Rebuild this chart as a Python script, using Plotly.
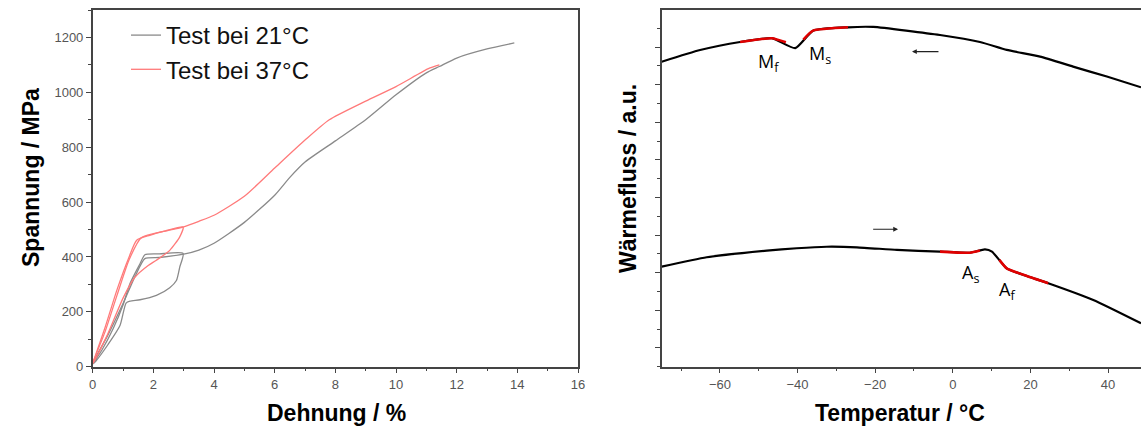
import plotly.graph_objects as go

# ---------------- Left panel: stress-strain ----------------
# Test bei 21°C (grey): cycle to 3 % and final test to fracture
g_cycle_strain = [0.0, 0.3, 0.68, 1.0, 1.23, 1.56, 1.72, 2.2, 2.98, 2.87, 2.76, 2.54, 2.1, 1.56, 1.23, 1.1, 0.9, 0.5, 0.1, 0.0]
g_cycle_stress = [10, 60, 140, 225, 303, 375, 408, 411, 413, 363, 314, 288, 260, 244, 239, 232, 150, 80, 20, 10]
g_final_strain = [0.0, 0.5, 1.0, 1.4, 1.72, 2.2, 3.0, 3.5, 4.0, 5.0, 6.0, 6.5, 7.0, 8.0, 9.0, 10.0, 11.0, 11.43, 12.0, 13.0, 13.9]
g_final_stress = [15, 115, 230, 330, 394, 398, 410, 425, 450, 526, 625, 690, 746, 823, 900, 991, 1071, 1094, 1125, 1158, 1180]

# Test bei 37°C (red)
r_cycle_strain = [0.0, 0.4, 0.8, 1.2, 1.45, 1.88, 2.4, 2.98, 2.87, 2.54, 2.1, 1.83, 1.39, 1.0, 0.5, 0.0]
r_cycle_stress = [10, 140, 280, 400, 461, 479, 495, 509, 473, 424, 388, 369, 326, 250, 120, 10]
r_final_strain = [0.0, 0.4, 0.8, 1.2, 1.6, 2.0, 2.5, 3.0, 3.5, 4.0, 5.0, 6.0, 7.0, 7.8, 9.0, 10.0, 11.1, 11.43]
r_final_stress = [15, 125, 260, 390, 470, 485, 497, 510, 530, 552, 621, 724, 826, 900, 968, 1021, 1088, 1100]

# ---------------- Right panel: DSC ----------------
cool_T = [-75.0, -65.1, -54.8, -46.6, -40.6, -36.0, -27.0, -20.5, -3.3, 7.0, 13.9, 22.5, 31.0, 39.7, 48.5]
cool_q = [16.22, 16.84, 17.27, 17.47, 16.94, 17.87, 18.05, 18.07, 17.64, 17.27, 16.85, 16.49, 15.96, 15.43, 14.86]
cool_red1_T = [-54.8, -46.6, -43.0]
cool_red1_q = [17.27, 17.47, 17.25]
cool_red2_T = [-38.5, -36.0, -27.0]
cool_red2_q = [17.40, 17.87, 18.05]

heat_T = [-75.0, -63.4, -47.9, -40.2, -32.5, -24.7, -14.4, -3.3, 4.4, 8.3, 10.1, 13.9, 19.1, 24.6, 36.2, 48.5]
heat_q = [5.32, 5.82, 6.17, 6.30, 6.38, 6.35, 6.21, 6.12, 6.06, 6.24, 6.12, 5.23, 4.82, 4.44, 3.55, 2.31]
heat_red1_T = [-3.3, 4.4, 7.0]
heat_red1_q = [6.12, 6.06, 6.18]
heat_red2_T = [12.0, 13.9, 19.1, 24.6]
heat_red2_q = [5.68, 5.23, 4.82, 4.44]

x1_ticks = [0, 2, 4, 6, 8, 10, 12, 14, 16]
y1_ticks = [0, 200, 400, 600, 800, 1000, 1200]
x2_ticks = [-60, -40, -20, 0, 20, 40]

W, H = 1141, 429

def px_x(p):
    return p / W

def px_y(p):
    return (H - p) / H

fig = go.Figure()

grey = "#8a8a8a"
pink = "#ff7a7a"

fig.add_trace(go.Scatter(
    x=g_cycle_strain + [None] + g_final_strain,
    y=g_cycle_stress + [None] + g_final_stress,
    mode="lines", line=dict(color=grey, width=1.3, shape="spline", smoothing=0.6),
    name="Test bei 21°C", legendgroup="a", xaxis="x", yaxis="y"))
fig.add_trace(go.Scatter(
    x=r_cycle_strain + [None] + r_final_strain,
    y=r_cycle_stress + [None] + r_final_stress,
    mode="lines", line=dict(color=pink, width=1.3, shape="spline", smoothing=0.6),
    name="Test bei 37°C", legendgroup="b", xaxis="x", yaxis="y"))

for xs, ys, col, w in [
    (cool_T, cool_q, "black", 2.2), (heat_T, heat_q, "black", 2.2),
    (cool_red1_T, cool_red1_q, "#e00000", 2.6), (cool_red2_T, cool_red2_q, "#e00000", 2.6),
    (heat_red1_T, heat_red1_q, "#e00000", 2.6), (heat_red2_T, heat_red2_q, "#e00000", 2.6)]:
    fig.add_trace(go.Scatter(x=xs, y=ys, mode="lines",
                             line=dict(color=col, width=w, shape="spline", smoothing=0.5),
                             showlegend=False, xaxis="x2", yaxis="y2"))

axis_col = "#444444"
tickfont = dict(family="Liberation Sans, Arial", size=13, color="#555555")
common = dict(showline=True, linecolor=axis_col, linewidth=1.5, ticks="outside",
              ticklen=5, tickwidth=1.2, tickcolor=axis_col, showgrid=False,
              zeroline=False, tickfont=tickfont, automargin=False)

fig.update_layout(
    width=W, height=H,
    margin=dict(l=0, r=0, t=0, b=0, pad=0),
    paper_bgcolor="white", plot_bgcolor="white",
    xaxis=dict(domain=[px_x(92.7), px_x(578)], range=[0, 16], tickvals=x1_ticks,
               mirror=True, anchor="y",
               minor=dict(dtick=1, ticklen=3, tickcolor=axis_col, ticks="outside"), **common),
    yaxis=dict(domain=[px_y(366.7), px_y(10)], range=[0, 1300], tickvals=y1_ticks,
               mirror=True, anchor="x",
               minor=dict(dtick=100, ticklen=3, tickcolor=axis_col, ticks="outside"), **common),
    xaxis2=dict(domain=[px_x(661.7), 1.0], range=[-75, 48.5], tickvals=x2_ticks,
                mirror=True, anchor="y2",
                minor=dict(dtick=10, tick0=0, ticklen=3, tickcolor=axis_col, ticks="outside"), **common),
    yaxis2=dict(domain=[px_y(366.7), px_y(10)], range=[0, 18.97], tick0=1, dtick=2,
                showticklabels=False, anchor="x2",
                minor=dict(dtick=1, tick0=0, ticklen=3, tickcolor=axis_col, ticks="outside"), **common),
    legend=dict(x=px_x(126), y=px_y(13), xanchor="left", yanchor="top",
                bgcolor="rgba(0,0,0,0)", tracegroupgap=0,
                font=dict(family="Liberation Sans, Arial", size=24, color="#111111")),
    showlegend=True,
)

title_font = dict(family="Liberation Sans, Arial", size=23, color="black")
ann = [
    dict(text="<b>Spannung / MPa</b>", x=px_x(31), y=px_y(178), textangle=-90),
    dict(text="<b>Dehnung / %</b>", x=px_x(336), y=px_y(413), textangle=0),
    dict(text="<b>Wärmefluss / a.u.</b>", x=px_x(628), y=px_y(178), textangle=-90),
    dict(text="<b>Temperatur / °C</b>", x=px_x(900), y=px_y(413), textangle=0),
]
for a in ann:
    fig.add_annotation(xref="paper", yref="paper", showarrow=False, font=title_font,
                       xanchor="center", yanchor="middle", **a)

lab_font = dict(family="Open Sans", size=18, color="black")
for txt, x, y in [("M<sub>f</sub>", -47.6, 16.2), ("M<sub>s</sub>", -34.2, 16.6),
                  ("A<sub>s</sub>", 4.5, 4.95), ("A<sub>f</sub>", 13.9, 4.05)]:
    fig.add_annotation(x=x, y=y, xref="x2", yref="y2", text=txt, showarrow=False,
                       font=lab_font, xanchor="center", yanchor="middle")

# direction arrows
fig.add_annotation(x=-10.5, y=16.76, ax=-3.3, ay=16.76, xref="x2", yref="y2",
                   axref="x2", ayref="y2", text="", showarrow=True, arrowhead=2,
                   arrowsize=0.8, arrowwidth=1.2, arrowcolor="#222222")
fig.add_annotation(x=-14.1, y=7.31, ax=-20.9, ay=7.31, xref="x2", yref="y2",
                   axref="x2", ayref="y2", text="", showarrow=True, arrowhead=2,
                   arrowsize=0.8, arrowwidth=1.2, arrowcolor="#222222")

fig.write_html("out.html", config={"displayModeBar": False},
               post_script="document.body.style.margin='0px';document.body.style.overflow='hidden';")
